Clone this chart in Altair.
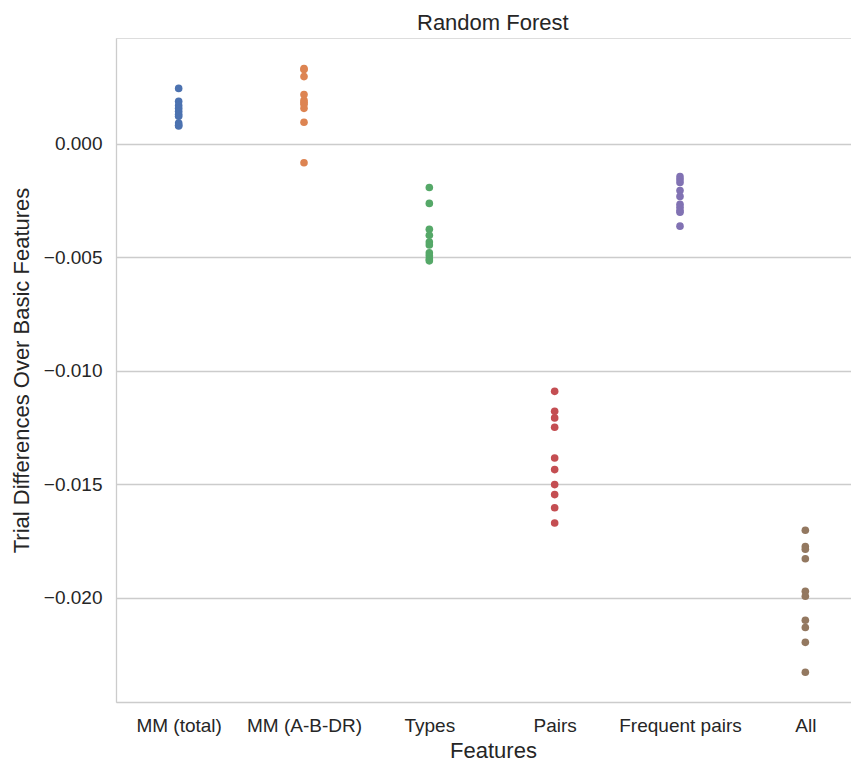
import altair as alt
import pandas as pd

categories = ["MM (total)", "MM (A-B-DR)", "Types", "Pairs", "Frequent pairs", "All"]
colors = ["#4C72B0", "#DD8452", "#55A868", "#C44E52", "#8172B3", "#937860"]

mm_total = [0.00245, 0.00188, 0.00170, 0.00157, 0.00144, 0.00131, 0.00122, 0.00092, 0.00083, 0.00079]
mm_abdr = [0.00332, 0.00328, 0.00297, 0.00218, 0.00192, 0.00183, 0.00175, 0.00157, 0.00096, -0.00083]
types_ = [-0.00192, -0.00262, -0.00376, -0.00402, -0.00432, -0.00445, -0.00480, -0.00493, -0.00507, -0.00515]
pairs = [-0.01090, -0.01178, -0.01207, -0.01248, -0.01384, -0.01435, -0.01501, -0.01545, -0.01603, -0.01670]
freq_pairs = [-0.00144, -0.00157, -0.00170, -0.00205, -0.00231, -0.00266, -0.00279, -0.00293, -0.00301, -0.00362]
all_ = [-0.01702, -0.01774, -0.01786, -0.01828, -0.01971, -0.01993, -0.02099, -0.02131, -0.02196, -0.02328]

y_ticks = [0.0, -0.005, -0.010, -0.015, -0.020]

series = [mm_total, mm_abdr, types_, pairs, freq_pairs, all_]
rows = []
for cat, vals in zip(categories, series):
    for v in vals:
        rows.append({"Features": cat, "value": v})
df = pd.DataFrame(rows)

FONT = "Liberation Sans"
TXT = "#262626"
GRID = "#cccccc"

chart = alt.Chart(df).mark_circle(size=58, opacity=1).encode(
    x=alt.X(
        "Features:N",
        sort=categories,
        scale=alt.Scale(type="point", padding=0.5, range=[0, 752]),
        axis=alt.Axis(
            title="Features", labelAngle=0, grid=False, ticks=False,
            domainColor=GRID, domainWidth=1.3,
            labelFontSize=19, titleFontSize=22, labelPadding=14, titlePadding=5,
            labelColor=TXT, titleColor=TXT, titleFontWeight="normal",
            labelFont=FONT, titleFont=FONT, titleX=377,
        ),
    ),
    y=alt.Y(
        "value:Q",
        scale=alt.Scale(domain=[-0.02459, 0.00467], nice=False, zero=False),
        axis=alt.Axis(
            title="Trial Differences Over Basic Features",
            values=y_ticks, format=".3f", ticks=False,
            grid=True, gridColor=GRID, gridWidth=1.3,
            domainColor=GRID, domainWidth=1.3,
            labelFontSize=19, titleFontSize=22, labelPadding=14, titlePadding=10,
            labelColor=TXT, titleColor=TXT, titleFontWeight="normal",
            labelFont=FONT, titleFont=FONT,
        ),
    ),
    color=alt.Color(
        "Features:N",
        sort=categories,
        scale=alt.Scale(domain=categories, range=colors),
        legend=None,
    ),
).properties(
    width=735,
    height=664,
    title=alt.TitleParams(
        "Random Forest", fontSize=22, fontWeight="normal", offset=3,
        color=TXT, font=FONT, anchor="start", frame="group", dx=301,
    ),
    autosize=alt.AutoSizeParams(type="none"),
    padding={"left": 108, "top": 30, "right": 0, "bottom": 60},
).configure_view(stroke=None).configure(background="white", font=FONT)

chart.save("out.html", embed_options={"renderer": "svg", "actions": False})
